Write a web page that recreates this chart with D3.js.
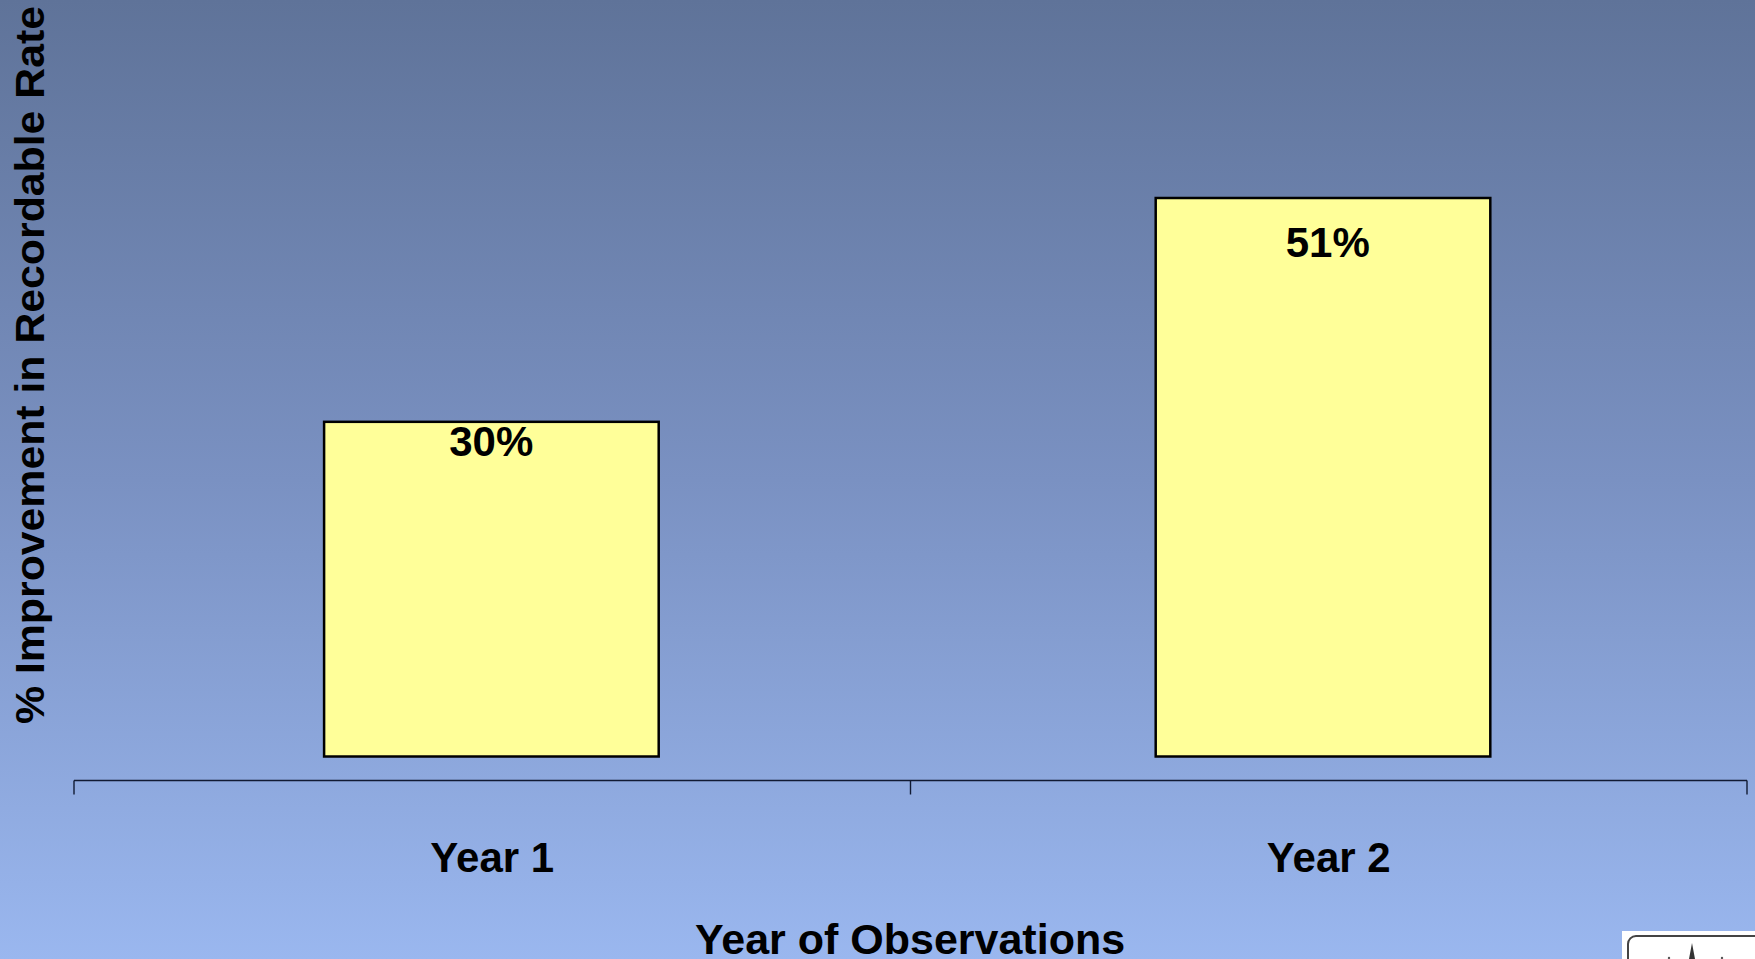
<!DOCTYPE html>
<html>
<head>
<meta charset="utf-8">
<script src="https://cdn.jsdelivr.net/npm/d3@7"></script>
<style>
html,body{margin:0;padding:0;overflow:hidden;}
svg{display:block;}
text{font-family:"Liberation Sans",Arial,sans-serif;font-weight:bold;fill:#000;}
</style>
</head>
<body>
<script>
const categories = ["Year 1", "Year 2"];
const values = [30, 51];
const valueLabels = ["30%", "51%"];
const xTitle = "Year of Observations";
const yTitle = "% Improvement in Recordable Rate";

const W = 1755, H = 959;
const svg = d3.select("body").append("svg").attr("width", W).attr("height", H);

const defs = svg.append("defs");
const grad = defs.append("linearGradient").attr("id","bg").attr("x1",0).attr("y1",0).attr("x2",0).attr("y2",1);
grad.append("stop").attr("offset","0%").attr("stop-color","#5f7399");
grad.append("stop").attr("offset","50%").attr("stop-color","#7a91c2");
grad.append("stop").attr("offset","100%").attr("stop-color","#9ab7ef");
svg.append("rect").attr("width",W).attr("height",H).attr("fill","url(#bg)");

const axisY = 780.5;
const x = d3.scaleBand().domain(categories).range([74, 1747]).padding(0);
const xBar = d3.scaleBand().domain(categories).range([75.6, 1738.8]).padding(0);
const yMin = -1.4;
const y = d3.scaleLinear().domain([yMin, 51]).range([756.5, 198]);

// bars
const bw = x.bandwidth() * 0.4;
svg.append("g").selectAll("rect").data(values).join("rect")
  .attr("x", (d,i) => xBar(categories[i]) + xBar.bandwidth()/2 - bw/2)
  .attr("y", d => y(d))
  .attr("width", bw)
  .attr("height", d => y(yMin) - y(d))
  .attr("fill", "#ffff99")
  .attr("stroke", "#000")
  .attr("stroke-width", 2.5);

// value labels
svg.append("g").selectAll("text").data(values).join("text")
  .attr("x", (d,i) => x(categories[i]) + x.bandwidth()/2 - 1)
  .attr("y", d => y(d * 0.892))
  .attr("text-anchor","middle")
  .attr("font-size", 42)
  .text((d,i) => valueLabels[i]);

// x axis
const xAxis = d3.axisBottom(x).tickSize(0).tickFormat("");
const gx = svg.append("g").attr("transform", `translate(0,${axisY})`).call(xAxis);
gx.select(".domain").remove();
gx.append("line").attr("x1",74).attr("x2",1747).attr("y1",0).attr("y2",0)
  .attr("stroke","#111a33").attr("stroke-width",1.6);
const tickPos = [x.range()[0], x(categories[1]), x.range()[1]];
gx.selectAll("line.tk").data(tickPos).join("line").attr("class","tk")
  .attr("x1", d => d).attr("x2", d => d).attr("y1", 0).attr("y2", 14)
  .attr("stroke","#111a33").attr("stroke-width",1.4);

// category labels
svg.append("g").selectAll("text").data(categories).join("text")
  .attr("x", d => x(d) + x.bandwidth()/2)
  .attr("y", 871.5)
  .attr("text-anchor","middle")
  .attr("font-size", 42)
  .text(d => d);

// axis titles
svg.append("text").attr("x", 910).attr("y", 954).attr("text-anchor","middle")
  .attr("font-size", 43).text(xTitle);

svg.append("text")
  .attr("transform","translate(44,365) rotate(-90) scale(1.07,1)")
  .attr("text-anchor","middle")
  .attr("font-size", 40)
  .text(yTitle);

// logo box (bottom right)
const lg = svg.append("g");
lg.append("rect").attr("x",1622).attr("y",931).attr("width",133).attr("height",28).attr("fill","#fff");
lg.append("rect").attr("x",1628).attr("y",936).attr("width",140).attr("height",40).attr("rx",8)
  .attr("fill","none").attr("stroke","#444").attr("stroke-width",2);
lg.append("path").attr("d","M1692,943 L1695,959 L1689,959 Z").attr("fill","#333");
lg.append("circle").attr("cx",1669).attr("cy",958).attr("r",1.2).attr("fill","#555");
lg.append("circle").attr("cx",1722).attr("cy",958).attr("r",1.2).attr("fill","#555");
</script>
</body>
</html>
